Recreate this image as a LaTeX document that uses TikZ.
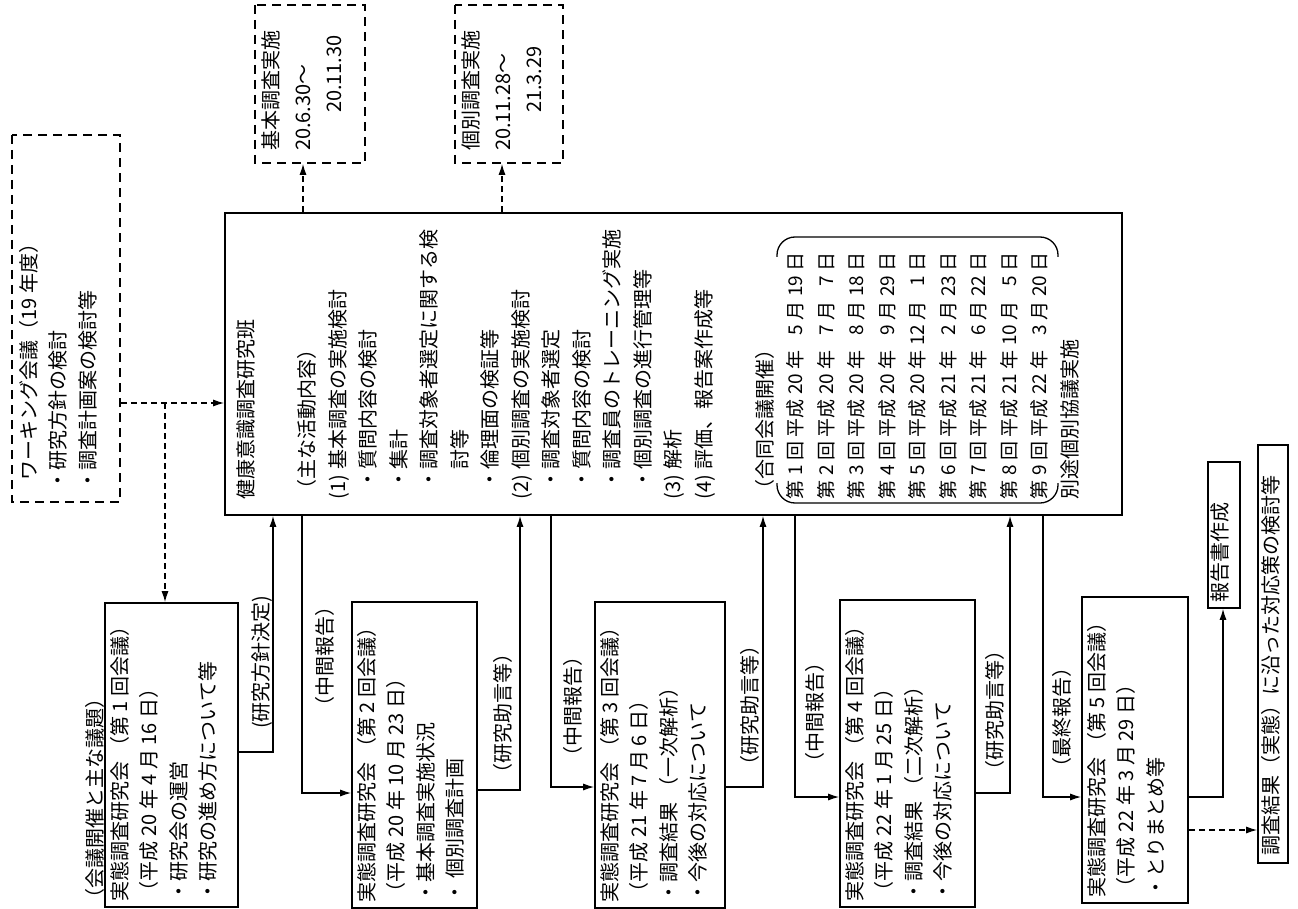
\documentclass[tikz,border=0pt]{standalone}
\usepackage{fontspec}
\setmainfont{Noto Sans CJK JP}
\usetikzlibrary{arrows.meta}

\tikzset{
  box/.style={draw,line width=1.6pt,rotate=90,inner xsep=6pt,inner ysep=5pt},
  dbox/.style={box,dash pattern=on 9pt off 6pt},
  lbl/.style={rotate=90,inner sep=0pt},
  arr/.style={line width=1.3pt,-{Latex[length=11pt,width=7pt]}},
  darr/.style={arr,dash pattern=on 6pt off 4pt},
}
\newcommand{\inbox}[3]{\parbox[c][#2][t]{#1}{#3}}

\begin{document}
\begin{tikzpicture}[x=1pt,y=-1pt,font=\fontsize{20}{29.5}\selectfont]
\useasboundingbox (0,0) rectangle (1298,909);

% research group
\node[box,inner xsep=16pt,inner ysep=12pt] (hub) at (673.5,364) {\inbox{270pt}{873pt}{\fontsize{20}{30.5}\selectfont
健康意識調査研究班\\[30.5pt]
（主な活動内容）\\
(1)\ 基本調査の実施検討\\
\hspace*{.5em}・質問内容の検討\\
\hspace*{.5em}・集計\\
\hspace*{.5em}・調査対象者選定に関する検\\
\hspace*{1.5em}討等\\
\hspace*{.5em}・倫理面の検証等\\
(2)\ 個別調査の実施検討\\
\hspace*{.5em}・調査対象者選定\\
\hspace*{.5em}・質問内容の検討\\
\hspace*{.5em}・調査員のトレーニング実施\\
\hspace*{.5em}・個別調査の進行管理等\\
(3)\ 解析\\
(4)\ 評価、報告案作成等\\[30.5pt]
（合同会議開催）\\
{\fontsize{19}{30.5}\selectfont
\begin{tabular}[t]{@{}l@{\hspace{.25em}}l@{\hspace{.25em}}r@{\hspace{.25em}}r@{}}
第 1 回 & 平成 20 年 & 5 月 & 19 日\\
第 2 回 & 平成 20 年 & 7 月 & 7 日\\
第 3 回 & 平成 20 年 & 8 月 & 18 日\\
第 4 回 & 平成 20 年 & 9 月 & 29 日\\
第 5 回 & 平成 20 年 & 12 月 & 1 日\\
第 6 回 & 平成 21 年 & 2 月 & 23 日\\
第 7 回 & 平成 21 年 & 6 月 & 22 日\\
第 8 回 & 平成 21 年 & 10 月 & 5 日\\
第 9 回 & 平成 22 年 & 3 月 & 20 日\\
\multicolumn{4}{@{}l@{}}{\fontsize{20}{30.5}\selectfont 別途個別協議実施}
\end{tabular}}}};
\draw[line width=1.3pt,rounded corners=18pt] (777,257) -- (777,237) -- (1058,237) -- (1058,257);
\draw[line width=1.3pt,rounded corners=18pt] (777,483) -- (777,503) -- (1058,503) -- (1058,483);

\node[dbox,inner xsep=12pt,inner ysep=7pt] (wk) at (66,318.5) {\inbox{343pt}{94pt}{
\hspace*{.5em}ワーキング会議（19 年度）\\
・研究方針の検討\\
・調査計画案の検討等}};

\node[dbox,inner xsep=12pt,inner ysep=7pt] (bA) at (310,84) {\inbox{134pt}{96pt}{\fontsize{20}{31.5}\selectfont
基本調査実施\\
20.6.30～\\
\hspace*{1.9em}20.11.30}};
\node[dbox,inner xsep=12pt,inner ysep=7pt] (bB) at (509,84) {\inbox{134pt}{94pt}{\fontsize{20}{31.5}\selectfont
個別調査実施\\
20.11.28～\\
\hspace*{1.9em}21.3.29}};

% meetings
\node[box] (m1) at (171.5,755) {\inbox{292pt}{123pt}{
実態調査研究会 （第 1 回会議）\\
（平成 20 年 4 月 16 日）\\
・研究会の運営\\
・研究の進め方について等}};
\node[box] (m2) at (414.5,755) {\inbox{294pt}{115pt}{
実態調査研究会 （第 2 回会議）\\
（平成 20 年 10 月 23 日）\\
・基本調査実施状況\\
・\,個別調査計画}};
\node[box] (m3) at (660,755) {\inbox{294pt}{120pt}{
実態調査研究会 （第 3 回会議）\\
（平成 21 年 7 月 6 日）\\
・調査結果 （一次解析）\\
・今後の対応について}};
\node[box] (m4) at (907.5,753.5) {\inbox{295pt}{125pt}{
実態調査研究会 （第 4 回会議）\\
（平成 22 年 1 月 25 日）\\
・調査結果 （二次解析）\\
・今後の対応について}};
\node[box] (m5) at (1135,750) {\inbox{294pt}{96pt}{
実態調査研究会 （第 5 回会議）\\
（平成 22 年 3 月 29 日）\\
・とりまとめ等}};

\node[box,inner xsep=6pt,inner ysep=3pt] (rep) at (1224,535) {\inbox{134pt}{26pt}{報告書作成}};
\node[box,inner xsep=8pt,inner ysep=3pt] (act) at (1273,654) {\inbox{402pt}{24pt}{調査結果（実態）に沿った対応策の検討等}};

% labels
\node[lbl] (l0) at (95,798) {（会議開催と主な議題）};
\node[lbl] (l1) at (262,662) {(研究方針決定)};
\node[lbl] (l2) at (325,656) {（中間報告）};
\node[lbl] (l3) at (503,713) {（研究助言等）};
\node[lbl] (l4) at (573,706) {（中間報告）};
\node[lbl] (l5) at (750,705) {（研究助言等）};
\node[lbl] (l6) at (815,712) {（中間報告）};
\node[lbl] (l7) at (995,710) {（研究助言等）};
\node[lbl] (l8) at (1062,717) {（最終報告）};

% connectors
\coordinate (w) at (165,403);
\draw[darr] (wk.south |- w) -- (w -| hub.north);
\draw[darr] (w) -- (w |- m1.east);
\draw[darr] (303,0 |- hub.east) -- (303,0 |- bA.west);
\draw[darr] (502,0 |- hub.east) -- (502,0 |- bB.west);
\foreach \m/\x/\y in {m1/273/752,m2/520/790,m3/763/787,m4/1010/793}
  \draw[arr] (\m.south |- 0,\y) -| (\x,0 |- hub.west);
\foreach \m/\x/\y in {m2/302/793,m3/551/787,m4/795/797,m5/1043/797}
  \draw[arr] (\x,0 |- hub.west) |- (\m.north |- 0,\y);
\draw[arr] (m5.south |- 0,797) -| (1223,0 |- rep.west);
\draw[darr] (m5.south |- 0,830) -- (0,830 -| act.north);
\end{tikzpicture}
\end{document}
